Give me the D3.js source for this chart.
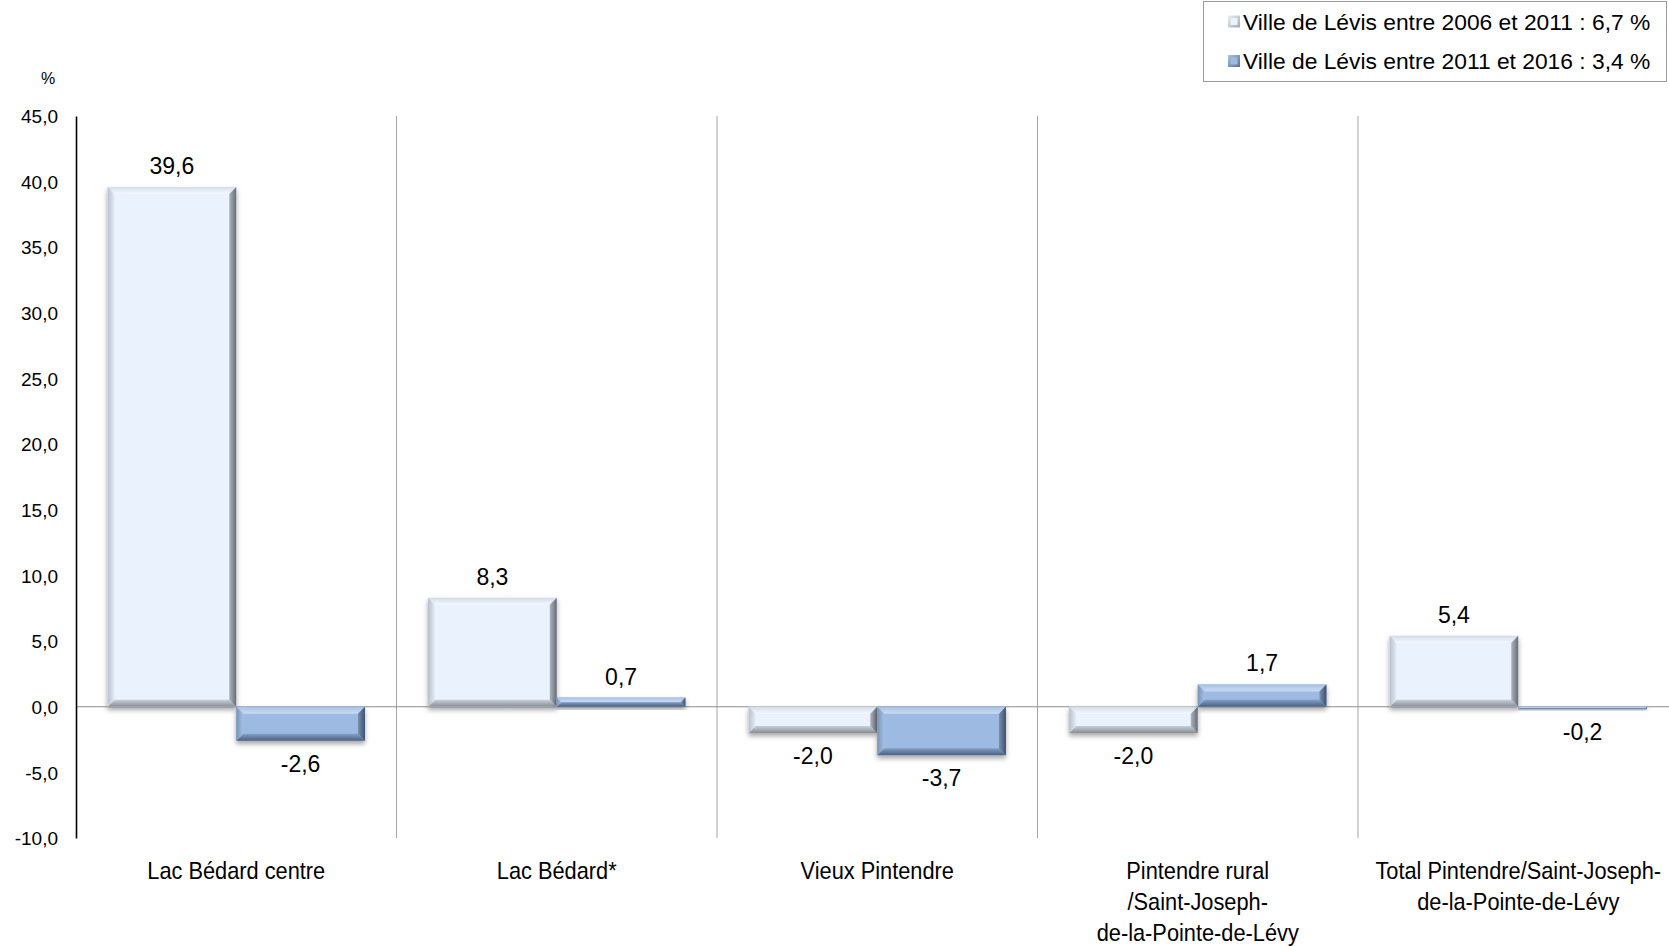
<!DOCTYPE html>
<html><head><meta charset="utf-8">
<script src="https://cdn.jsdelivr.net/npm/d3@7"></script>
<style>
html,body{margin:0;padding:0;background:#fff;}
svg{display:block;}
</style></head>
<body>
<script>
// ---- data ----
const categories = ["Lac Bédard centre","Lac Bédard*","Vieux Pintendre","Pintendre rural /Saint-Joseph- de-la-Pointe-de-Lévy","Total Pintendre/Saint-Joseph- de-la-Pointe-de-Lévy"];
const categoryLines = [
  ["Lac Bédard centre"],
  ["Lac Bédard*"],
  ["Vieux Pintendre"],
  ["Pintendre rural","/Saint-Joseph-","de-la-Pointe-de-Lévy"],
  ["Total Pintendre/Saint-Joseph-","de-la-Pointe-de-Lévy"]
];
const seriesNames = ["Ville de Lévis entre 2006 et 2011 : 6,7 %","Ville de Lévis entre 2011 et 2016 : 3,4 %"];
const series2006_2011 = [39.6, 8.3, -2.0, -2.0, 5.4];
const series2011_2016 = [-2.6, 0.7, -3.7, 1.7, -0.2];
const yTicks = [45,40,35,30,25,20,15,10,5,0,-5,-10];

const W = 1669, H = 946;
const svg = d3.select("body").append("svg").attr("width",W).attr("height",H);
const defs = svg.append("defs");

const fmt = v => v.toFixed(1).replace(".", ",");

const y = d3.scaleLinear().domain([-10,45]).range([838,116]);
const x0 = d3.scaleBand().domain(d3.range(categories.length)).range([76, 76+5*320.5]).paddingInner(0).paddingOuter(0);
const x1 = d3.scaleBand().domain([0,1]).range([0, x0.bandwidth()]).paddingOuter(0.245).paddingInner(0);

// palettes
const pal = [
  {fill:"#e9f2fd", top:["#d3dce7","#f4f9fe"], left:["#b8c0cb","#e3ecf7"], right:["#666c75","#adb5c0"], bottom:["#878e98","#c7cfd9"], legend:["#eceff3","#a3a9b2"]},
  {fill:"#9dbbe2", top:["#a7c1e4","#c9dcf3"], left:["#7893b6","#a6c1e5"], right:["#3c506b","#7990b1"], bottom:["#4a607d","#839fc5"], legend:["#aec5e2","#56708f"]}
];
function grad(id, c, x1_, y1_, x2_, y2_){
  const g = defs.append("linearGradient").attr("id",id)
    .attr("x1",x1_).attr("y1",y1_).attr("x2",x2_).attr("y2",y2_);
  g.append("stop").attr("offset","0").attr("stop-color",c[0]);
  g.append("stop").attr("offset","1").attr("stop-color",c[1]);
}
pal.forEach((p,i)=>{
  grad("top"+i, p.top, 0,0,0,1);
  grad("bot"+i, p.bottom, 0,1,0,0);
  grad("lef"+i, p.left, 0,0,1,0);
  grad("rig"+i, p.right, 1,0,0,0);
  grad("leg"+i, p.legend, 0,0,1,1);
});
const f = defs.append("filter").attr("id","shadow").attr("x","-10%").attr("y","-10%").attr("width","130%").attr("height","140%");
f.append("feDropShadow").attr("dx",0).attr("dy",3).attr("stdDeviation",2.5).attr("flood-color","#000").attr("flood-opacity",0.35);

// vertical separators
const g = svg.append("g");
const sepX = d => d < categories.length ? x0(d) : x0.range()[1];
g.selectAll("line.sep").data(d3.range(1,categories.length+1)).enter().append("line")
  .attr("x1",sepX).attr("x2",sepX)
  .attr("y1",y(45)).attr("y2",y(-10)).attr("stroke","#a6a6a6").attr("stroke-width",1);

// zero line
g.append("line").attr("x1",76).attr("x2",W).attr("y1",y(0)).attr("y2",y(0))
  .attr("stroke","#8c8c8c").attr("stroke-width",1.2);

// y axis
const yAxis = d3.axisLeft(y).tickValues(yTicks).tickSize(0).tickPadding(18).tickFormat(fmt);
const ya = svg.append("g").attr("transform","translate(76,0)").call(yAxis);
ya.select(".domain").attr("stroke","#000").attr("stroke-width",1.6);
ya.selectAll("text").attr("font-family","'Liberation Sans', Arial, sans-serif").attr("font-size",19).attr("fill","#000").attr("dy","0.35em");
svg.append("text").attr("x",48).attr("y",78).attr("text-anchor","middle").attr("dominant-baseline","central")
  .attr("font-family","'Liberation Sans', Arial, sans-serif").attr("font-size",16).text("%");

// bars
const data = [];
categories.forEach((c,i)=>{
  [series2006_2011, series2011_2016].forEach((s,j)=>{
    data.push({cat:i, ser:j, v:s[i]});
  });
});
function bevelBar(sel, d){
  const bx = x0(d.cat)+x1(d.ser), bw = x1.bandwidth();
  const by = y(Math.max(0,d.v)), bh = Math.max(1.5, Math.abs(y(d.v)-y(0)));
  const b = Math.min(7, bh/2, bw/2);
  const gg = sel.append("g").attr("filter","url(#shadow)");
  gg.append("rect").attr("x",bx).attr("y",by).attr("width",bw).attr("height",bh).attr("fill",pal[d.ser].fill);
  const pts = a => a.map(p=>p.join(",")).join(" ");
  gg.append("polygon").attr("points",pts([[bx,by],[bx+bw,by],[bx+bw-b,by+b],[bx+b,by+b]])).attr("fill",`url(#top${d.ser})`);
  gg.append("polygon").attr("points",pts([[bx,by+bh],[bx+bw,by+bh],[bx+bw-b,by+bh-b],[bx+b,by+bh-b]])).attr("fill",`url(#bot${d.ser})`);
  gg.append("polygon").attr("points",pts([[bx,by],[bx+b,by+b],[bx+b,by+bh-b],[bx,by+bh]])).attr("fill",`url(#lef${d.ser})`);
  gg.append("polygon").attr("points",pts([[bx+bw,by],[bx+bw-b,by+b],[bx+bw-b,by+bh-b],[bx+bw,by+bh]])).attr("fill",`url(#rig${d.ser})`);
}
const barsG = svg.append("g");
data.forEach(d=>bevelBar(barsG,d));

// value labels
svg.append("g").selectAll("text").data(data).enter().append("text")
  .attr("x",d=>x0(d.cat)+x1(d.ser)+x1.bandwidth()/2)
  .attr("y",d=> d.v>=0 ? y(d.v)-21 : y(d.v)+23)
  .attr("text-anchor","middle").attr("dominant-baseline","central")
  .attr("font-family","'Liberation Sans', Arial, sans-serif").attr("font-size",23).attr("fill","#000")
  .text(d=>fmt(d.v));

// category labels
const cl = svg.append("g").selectAll("text").data(categoryLines).enter().append("text")
  .attr("text-anchor","middle")
  .attr("transform",(l,i)=>`translate(${x0(i)+x0.bandwidth()/2},0) scale(0.9,1)`)
  .attr("font-family","'Liberation Sans', Arial, sans-serif").attr("font-size",24.2).attr("fill","#000");
cl.each(function(lines,i){
  d3.select(this).selectAll("tspan").data(lines).enter().append("tspan")
    .attr("x", 0).attr("y",(l,k)=>871+31*k).attr("dominant-baseline","central").text(l=>l);
});

// legend
const lg = svg.append("g");
lg.append("rect").attr("x",1203.5).attr("y",1.5).attr("width",463).attr("height",80).attr("fill","#fff").attr("stroke","#9a9a9a").attr("stroke-width",1);
seriesNames.forEach((n,i)=>{
  const yy = 21.5 + 39.5*i;
  lg.append("rect").attr("x",1228).attr("y",yy-6).attr("width",12).attr("height",12).attr("fill",`url(#leg${i})`);
  lg.append("rect").attr("x",1230.5).attr("y",yy-3.5).attr("width",7).attr("height",7).attr("fill",pal[i].fill);
  lg.append("text").attr("x",1243).attr("y",yy).attr("dominant-baseline","central")
    .attr("font-family","'Liberation Sans', Arial, sans-serif").attr("font-size",22.8).attr("fill","#000").text(n);
});
</script>
</body></html>
